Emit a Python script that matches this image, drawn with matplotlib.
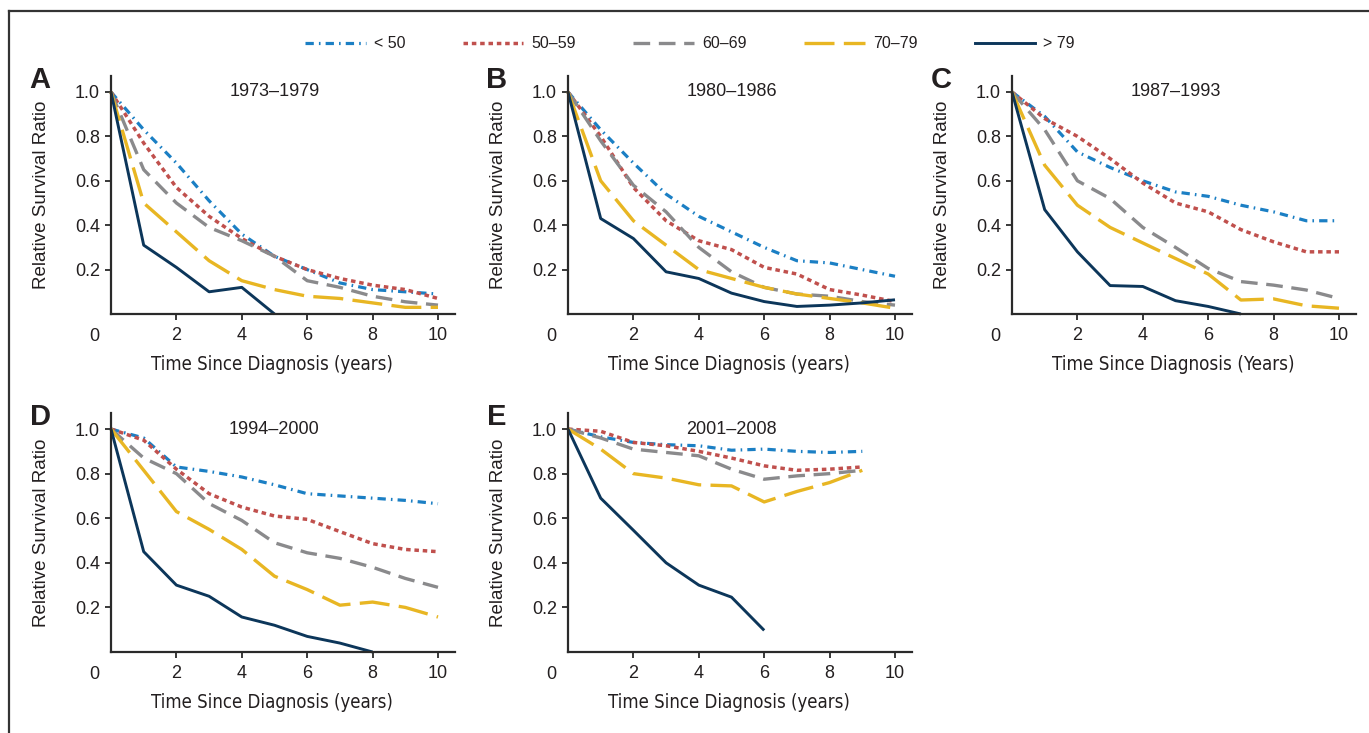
import matplotlib
matplotlib.use("Agg")
import matplotlib.pyplot as plt
from matplotlib.lines import Line2D
from matplotlib import font_manager
from matplotlib.font_manager import FontProperties

names = {f.name for f in font_manager.fontManager.ttflist}
BASE = "Liberation Sans" if "Liberation Sans" in names else "DejaVu Sans"
condensed = [f for f in font_manager.fontManager.ttflist
             if f.style == "normal" and f.weight in (400, "normal")
             and ("Narrow" in f.name or "ondensed" in str(f.stretch)
                  or "ondensed" in f.fname)]
narrow_lib = [f for f in condensed if f.name == "Liberation Sans Narrow"]
if narrow_lib:
    NARROW_FP = FontProperties(fname=narrow_lib[0].fname)
elif condensed:
    NARROW_FP = FontProperties(fname=condensed[0].fname)
else:
    NARROW_FP = FontProperties(family=[BASE, "DejaVu Sans"])
plt.rcParams["font.family"] = [BASE, "DejaVu Sans"]

years = [0, 1, 2, 3, 4, 5, 6, 7, 8, 9, 10]
groups = ["< 50", "50\u201359", "60\u201369", "70\u201379", "> 79"]
periods = ["1973\u20131979", "1980\u20131986", "1987\u20131993", "1994\u20132000", "2001\u20132008"]
letters = ["A", "B", "C", "D", "E"]
xlabels = ["Time Since Diagnosis (years)", "Time Since Diagnosis (years)",
           "Time Since Diagnosis (Years)", "Time Since Diagnosis (years)",
           "Time Since Diagnosis (years)"]

# Panel A 1973-1979
a_lt50 = [1.0, 0.83, 0.68, 0.51, 0.36, 0.26, 0.20, 0.14, 0.11, 0.10, 0.09]
a_50 = [1.0, 0.77, 0.57, 0.44, 0.34, 0.26, 0.20, 0.16, 0.13, 0.11, 0.07]
a_60 = [1.0, 0.65, 0.50, 0.39, 0.33, 0.26, 0.15, 0.12, 0.08, 0.055, 0.04]
a_70 = [1.0, 0.50, 0.37, 0.24, 0.15, 0.11, 0.08, 0.07, 0.05, 0.03, 0.03]
a_gt79 = [1.0, 0.31, 0.21, 0.10, 0.12, 0.0]
# Panel B 1980-1986
b_lt50 = [1.0, 0.83, 0.68, 0.54, 0.44, 0.37, 0.30, 0.24, 0.23, 0.20, 0.17]
b_50 = [1.0, 0.80, 0.57, 0.42, 0.33, 0.29, 0.21, 0.18, 0.11, 0.085, 0.056]
b_60 = [1.0, 0.78, 0.58, 0.46, 0.30, 0.19, 0.12, 0.09, 0.08, 0.056, 0.04]
b_70 = [1.0, 0.60, 0.42, 0.31, 0.20, 0.16, 0.12, 0.09, 0.07, 0.05, 0.026]
b_gt79 = [1.0, 0.43, 0.34, 0.19, 0.16, 0.094, 0.056, 0.034, 0.04, 0.05, 0.064]
# Panel C 1987-1993
c_lt50 = [1.0, 0.89, 0.73, 0.66, 0.60, 0.55, 0.53, 0.49, 0.46, 0.42, 0.42]
c_50 = [1.0, 0.88, 0.80, 0.70, 0.59, 0.50, 0.46, 0.38, 0.325, 0.28, 0.28]
c_60 = [1.0, 0.83, 0.60, 0.52, 0.39, 0.30, 0.205, 0.146, 0.13, 0.108, 0.07]
c_70 = [1.0, 0.67, 0.49, 0.39, 0.32, 0.25, 0.18, 0.063, 0.068, 0.037, 0.026]
c_gt79 = [1.0, 0.47, 0.28, 0.128, 0.124, 0.06, 0.034, 0.0]
# Panel D 1994-2000
d_lt50 = [1.0, 0.96, 0.83, 0.81, 0.785, 0.75, 0.71, 0.70, 0.69, 0.68, 0.665]
d_50 = [1.0, 0.95, 0.82, 0.71, 0.65, 0.61, 0.595, 0.54, 0.486, 0.46, 0.45]
d_60 = [1.0, 0.87, 0.80, 0.666, 0.59, 0.49, 0.445, 0.42, 0.38, 0.33, 0.29]
d_70 = [1.0, 0.815, 0.63, 0.55, 0.46, 0.34, 0.28, 0.21, 0.224, 0.20, 0.157]
d_gt79 = [1.0, 0.45, 0.30, 0.25, 0.157, 0.12, 0.07, 0.04, 0.0]
# Panel E 2001-2008
e_lt50 = [1.0, 0.965, 0.94, 0.93, 0.925, 0.905, 0.91, 0.90, 0.895, 0.90]
e_50 = [1.0, 0.99, 0.94, 0.925, 0.90, 0.87, 0.835, 0.815, 0.82, 0.83]
e_60 = [1.0, 0.96, 0.91, 0.895, 0.88, 0.82, 0.775, 0.79, 0.80, 0.815]
e_70 = [1.0, 0.91, 0.80, 0.78, 0.75, 0.745, 0.673, 0.72, 0.76, 0.815]
e_gt79 = [1.0, 0.69, 0.546, 0.40, 0.30, 0.246, 0.097]

panels = [
    [a_lt50, a_50, a_60, a_70, a_gt79],
    [b_lt50, b_50, b_60, b_70, b_gt79],
    [c_lt50, c_50, c_60, c_70, c_gt79],
    [d_lt50, d_50, d_60, d_70, d_gt79],
    [e_lt50, e_50, e_60, e_70, e_gt79],
]

colors = ["#1b7fc4", "#c0504d", "#8a8a8c", "#e8b623", "#0c365a"]
styles = [(0, (2.6, 1.6, 0.5, 1.6)), (0, (1.3, 1.1)), (0, (5.0, 2.6)),
          (0, (9.0, 2.8)), "-"]
widths = [2.3, 2.5, 2.4, 2.4, 2.1]

W, H = 1369, 733
fig = plt.figure(figsize=(W / 100, H / 100), dpi=100)
renderer = fig.canvas.get_renderer()

lefts = [111, 568, 1012, 111, 568]
bottoms = [314, 314, 314, 652, 652]
tops = [76, 76, 76, 413, 413]
aw = 344
XLABEL_PX = 243.0

for i in range(5):
    l, b, t = lefts[i], bottoms[i], tops[i]
    ax = fig.add_axes([l / W, 1 - b / H, aw / W, (b - t) / H])
    for vals, c, ls, lw in zip(panels[i], colors, styles, widths):
        ax.plot(years[:len(vals)], vals, color=c, linestyle=ls, linewidth=lw,
                solid_capstyle="butt", dash_capstyle="butt", clip_on=False)
    ax.set_xlim(0, 10.52)
    ax.set_ylim(0, 1.072)
    ax.set_xticks([2, 4, 6, 8, 10])
    ax.set_yticks([0.2, 0.4, 0.6, 0.8, 1.0])
    ax.set_yticklabels(["0.2", "0.4", "0.6", "0.8", "1.0"])
    ax.spines["top"].set_visible(False)
    ax.spines["right"].set_visible(False)
    for s in ["left", "bottom"]:
        ax.spines[s].set_linewidth(1.6)
        ax.spines[s].set_color("#2a2a2a")
    ax.tick_params(axis="both", direction="out", length=4, width=1.3,
                   color="#2a2a2a", labelsize=13, labelcolor="#231f20")
    ax.tick_params(axis="x", pad=5)
    ax.tick_params(axis="y", pad=4)
    ax.text(-0.5, -0.062, "0", ha="center", va="top", fontsize=13,
            color="#231f20", clip_on=False)
    ax.set_ylabel("Relative Survival Ratio", fontsize=13.5, color="#231f20")
    ax.yaxis.set_label_coords(-0.177, 0.5)
    lab = ax.set_xlabel(xlabels[i], color="#231f20")
    lab.set_fontproperties(NARROW_FP.copy())
    lab.set_fontsize(15)
    wpx = lab.get_window_extent(renderer).width
    if wpx > 0:
        lab.set_fontsize(min(17.0, 15 * XLABEL_PX / wpx))
    ax.xaxis.set_label_coords(0.468, -0.172)
    ax.text(5, 1.0, periods[i], ha="center", va="center", fontsize=13,
            color="#231f20")
    fig.text((l - 71) / W, 1 - (t + 4) / H, letters[i], fontsize=21,
             fontweight="bold", ha="center", va="center", color="#231f20")

handles = [Line2D([], [], color=c, linestyle=ls, linewidth=lw,
                  dash_capstyle="butt") for c, ls, lw in zip(colors, styles, widths)]
fig.legend(handles, groups, loc="center", bbox_to_anchor=(690 / W, 1 - 44 / H),
           ncol=5, frameon=False, fontsize=11.5, handlelength=3.8,
           handletextpad=0.5, columnspacing=3.6, labelcolor="#231f20")

fig.add_artist(Line2D([9 / W, 1.0], [1 - 11 / H, 1 - 11 / H],
                      transform=fig.transFigure, color="#333333", linewidth=1.6))
fig.add_artist(Line2D([9 / W, 9 / W], [0.0, 1 - 11 / H],
                      transform=fig.transFigure, color="#333333", linewidth=1.6))

fig.savefig("out.png", dpi=100)
